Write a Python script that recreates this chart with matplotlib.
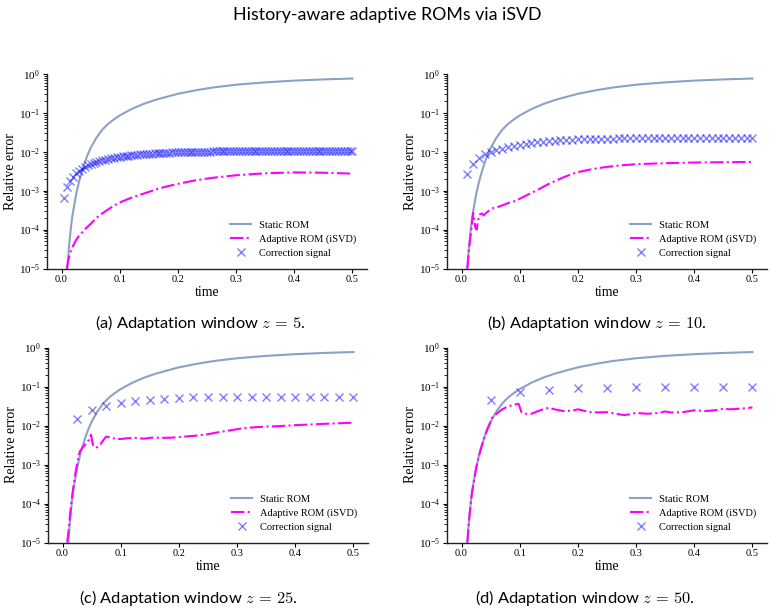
import numpy as np
import matplotlib
matplotlib.use("Agg")
import matplotlib.pyplot as plt
from matplotlib.ticker import LogLocator, NullFormatter, FixedLocator, FormatStrFormatter

plt.rcParams['font.family'] = ['Liberation Serif', 'DejaVu Serif']
plt.rcParams['mathtext.fontset'] = 'stix'

# ---------------- data ----------------
dt = 0.001
windows = [5, 10, 25, 50]
panel_labels = ["(a)", "(b)", "(c)", "(d)"]

static_t = [0.0100, 0.0125, 0.0150, 0.0175, 0.0200, 0.0250, 0.0300, 0.0350, 0.0400,
            0.0450, 0.0500, 0.0600, 0.0700, 0.0800, 0.0900, 0.1000, 0.1200, 0.1400,
            0.1600, 0.1800, 0.2000, 0.2300, 0.2600, 0.3000, 0.3500, 0.4000, 0.4500, 0.5000]
static_err = [1.0e-5, 3.2e-5, 7.9e-5, 1.7e-4, 3.0e-4, 8.0e-4, 1.7e-3, 3.1e-3, 5.4e-3,
              8.5e-3, 1.25e-2, 2.3e-2, 3.7e-2, 5.2e-2, 6.8e-2, 8.6e-2, 0.125, 0.168,
              0.213, 0.258, 0.31, 0.38, 0.45, 0.53, 0.61, 0.675, 0.725, 0.765]

# adaptive ROM (iSVD) error per panel
adapt_a_t = [0.009, 0.010, 0.0115, 0.013, 0.015, 0.0175, 0.020, 0.025, 0.030, 0.035, 0.040,
             0.050, 0.060, 0.070, 0.080, 0.090, 0.100, 0.120, 0.140, 0.160, 0.180, 0.200,
             0.230, 0.260, 0.300, 0.350, 0.400, 0.450, 0.500]
adapt_a = [1.0e-5, 1.2e-5, 1.6e-5, 2.0e-5, 2.6e-5, 3.2e-5, 3.9e-5, 5.4e-5, 6.9e-5, 8.4e-5, 1.02e-4,
           1.4e-4, 2.0e-4, 2.6e-4, 3.3e-4, 4.1e-4, 5.0e-4, 6.6e-4, 8.3e-4, 1.05e-3, 1.28e-3, 1.5e-3,
           1.85e-3, 2.15e-3, 2.5e-3, 2.8e-3, 2.95e-3, 2.9e-3, 2.75e-3]

adapt_b_t = [0.010, 0.012, 0.014, 0.016, 0.018, 0.020, 0.022, 0.024, 0.026, 0.028, 0.030,
             0.032, 0.035, 0.038, 0.040, 0.045, 0.050, 0.055, 0.060, 0.070, 0.080, 0.090,
             0.100, 0.110, 0.120, 0.130, 0.140, 0.150, 0.160, 0.175, 0.190, 0.200, 0.225,
             0.250, 0.275, 0.300, 0.350, 0.400, 0.450, 0.500]
adapt_b = [1.0e-5, 2.5e-5, 4.5e-5, 8.0e-5, 1.5e-4, 2.7e-4, 1.6e-4, 1.1e-4, 1.0e-4, 1.6e-4, 2.2e-4,
           2.5e-4, 2.6e-4, 2.3e-4, 2.5e-4, 2.9e-4, 3.3e-4, 3.6e-4, 3.7e-4, 4.2e-4, 4.8e-4, 5.3e-4,
           6.2e-4, 7.4e-4, 8.8e-4, 1.03e-3, 1.25e-3, 1.5e-3, 1.75e-3, 2.2e-3, 2.7e-3, 3.0e-3, 3.6e-3,
           4.1e-3, 4.5e-3, 4.8e-3, 5.1e-3, 5.3e-3, 5.4e-3, 5.5e-3]

adapt_c_t = [0.008, 0.010, 0.0125, 0.015, 0.0175, 0.020, 0.0225, 0.025, 0.0275, 0.030, 0.035,
             0.040, 0.045, 0.049, 0.052, 0.056, 0.060, 0.065, 0.070, 0.075, 0.080, 0.090,
             0.100, 0.110, 0.125, 0.140, 0.155, 0.170, 0.190, 0.210, 0.230, 0.250, 0.270,
             0.290, 0.310, 0.330, 0.350, 0.370, 0.400, 0.430, 0.460, 0.500]
adapt_c = [1.0e-5, 1.8e-5, 4.5e-5, 1.0e-4, 2.0e-4, 3.7e-4, 6.5e-4, 1.0e-3, 1.7e-3, 2.2e-3, 2.8e-3,
           3.4e-3, 4.2e-3, 5.8e-3, 3.2e-3, 2.7e-3, 2.8e-3, 3.3e-3, 4.2e-3, 5.2e-3, 5.0e-3, 4.6e-3,
           4.5e-3, 4.7e-3, 4.8e-3, 4.6e-3, 4.9e-3, 4.8e-3, 4.9e-3, 5.2e-3, 5.5e-3, 6.0e-3, 6.8e-3,
           7.6e-3, 8.5e-3, 9.0e-3, 9.4e-3, 9.6e-3, 1.02e-2, 1.07e-2, 1.12e-2, 1.18e-2]

adapt_d_t = [0.0100, 0.0125, 0.0150, 0.0175, 0.0200, 0.0250, 0.0300, 0.0350, 0.0400, 0.0450,
             0.050, 0.052, 0.060, 0.070, 0.080, 0.090, 0.098, 0.103, 0.110, 0.120, 0.130,
             0.140, 0.150, 0.160, 0.175, 0.190, 0.200, 0.210, 0.225, 0.250, 0.265, 0.280,
             0.290, 0.300, 0.320, 0.340, 0.350, 0.360, 0.380, 0.400, 0.420, 0.440, 0.450,
             0.460, 0.480, 0.500]
adapt_d = [1.0e-5, 3.2e-5, 7.9e-5, 1.7e-4, 3.0e-4, 8.0e-4, 1.7e-3, 3.1e-3, 5.4e-3, 8.5e-3,
           1.25e-2, 1.55e-2, 2.0e-2, 2.6e-2, 3.1e-2, 3.4e-2, 3.6e-2, 2.2e-2, 2.0e-2, 2.0e-2, 2.3e-2,
           2.6e-2, 2.85e-2, 2.6e-2, 2.35e-2, 2.4e-2, 2.6e-2, 2.4e-2, 2.15e-2, 2.2e-2, 2.0e-2, 1.85e-2,
           1.95e-2, 2.1e-2, 2.0e-2, 2.1e-2, 2.3e-2, 2.15e-2, 2.2e-2, 2.45e-2, 2.35e-2, 2.5e-2, 2.7e-2,
           2.6e-2, 2.7e-2, 2.9e-2]

# correction signal (one value per adaptation window)
corr_a = [6.5e-4, 1.25e-3, 1.8e-3, 2.3e-3, 2.8e-3, 3.25e-3, 3.65e-3, 4.05e-3, 4.45e-3, 4.8e-3,
          5.15e-3, 5.45e-3, 5.75e-3, 6.05e-3, 6.3e-3, 6.55e-3, 6.8e-3, 7.0e-3, 7.2e-3, 7.4e-3,
          7.6e-3, 7.8e-3, 7.95e-3, 8.1e-3, 8.25e-3, 8.4e-3, 8.55e-3, 8.7e-3, 8.8e-3, 8.9e-3,
          9.0e-3, 9.1e-3, 9.2e-3, 9.3e-3, 9.4e-3, 9.45e-3, 9.5e-3, 9.6e-3, 9.65e-3, 9.7e-3,
          9.75e-3, 9.8e-3, 9.85e-3, 9.9e-3, 9.95e-3, 1.0e-2, 1.0e-2, 1.005e-2, 1.01e-2, 1.01e-2,
          1.015e-2, 1.02e-2, 1.02e-2, 1.025e-2, 1.025e-2, 1.03e-2, 1.03e-2, 1.03e-2, 1.035e-2, 1.035e-2,
          1.035e-2, 1.04e-2, 1.04e-2, 1.04e-2, 1.04e-2, 1.045e-2, 1.045e-2, 1.045e-2, 1.045e-2, 1.045e-2,
          1.05e-2, 1.05e-2, 1.05e-2, 1.05e-2, 1.05e-2, 1.05e-2, 1.05e-2, 1.05e-2, 1.05e-2, 1.05e-2,
          1.05e-2, 1.05e-2, 1.05e-2, 1.05e-2, 1.05e-2, 1.05e-2, 1.05e-2, 1.05e-2, 1.05e-2, 1.05e-2,
          1.05e-2, 1.05e-2, 1.05e-2, 1.05e-2, 1.045e-2, 1.045e-2, 1.045e-2, 1.045e-2, 1.04e-2, 1.04e-2]
corr_b = [2.7e-3, 5.0e-3, 7.0e-3, 8.6e-3, 9.9e-3, 1.1e-2, 1.21e-2, 1.32e-2, 1.42e-2, 1.51e-2,
          1.59e-2, 1.67e-2, 1.74e-2, 1.81e-2, 1.87e-2, 1.92e-2, 1.97e-2, 2.01e-2, 2.05e-2, 2.08e-2,
          2.11e-2, 2.13e-2, 2.15e-2, 2.17e-2, 2.18e-2, 2.19e-2, 2.2e-2, 2.21e-2, 2.21e-2, 2.22e-2,
          2.22e-2, 2.22e-2, 2.23e-2, 2.23e-2, 2.23e-2, 2.23e-2, 2.23e-2, 2.23e-2, 2.23e-2, 2.23e-2,
          2.23e-2, 2.23e-2, 2.22e-2, 2.22e-2, 2.22e-2, 2.22e-2, 2.22e-2, 2.22e-2, 2.21e-2, 2.21e-2]
corr_c = [1.45e-2, 2.45e-2, 3.15e-2, 3.85e-2, 4.3e-2, 4.6e-2, 4.9e-2, 5.1e-2, 5.25e-2, 5.3e-2,
          5.4e-2, 5.4e-2, 5.45e-2, 5.45e-2, 5.45e-2, 5.45e-2, 5.45e-2, 5.4e-2, 5.4e-2, 5.35e-2]
corr_d = [4.6e-2, 7.2e-2, 8.3e-2, 8.9e-2, 9.3e-2, 9.6e-2, 9.7e-2, 9.7e-2, 9.7e-2, 9.7e-2]

adapt_t = [adapt_a_t, adapt_b_t, adapt_c_t, adapt_d_t]
adapt_v = [adapt_a, adapt_b, adapt_c, adapt_d]
corr_v = [corr_a, corr_b, corr_c, corr_d]

title = "History-aware adaptive ROMs via iSVD"
x_ticks = [0.0, 0.1, 0.2, 0.3, 0.4, 0.5]

# ---------------- figure ----------------
W, H = 774, 612
fig = plt.figure(figsize=(W / 100, H / 100), dpi=100)

# axes boxes in pixels: (left, top, right, bottom)
boxes = [(47, 74, 367, 268.5), (447, 74, 767, 268.5),
         (48, 347.5, 368, 542.5), (447, 347.5, 767, 542.5)]
caption_pos = [(200, 323), (597, 323), (188, 598), (585, 598)]

static_color = '#8DA0C6'
adapt_color = '#FF00FF'
corr_color = (0.0, 0.0, 1.0, 0.5)

for i, (l, t, r, b) in enumerate(boxes):
    ax = fig.add_axes([l / W, 1 - b / H, (r - l) / W, (b - t) / H])
    ax.plot(static_t, static_err, color=static_color, lw=1.5, label='Static ROM')
    ax.plot(adapt_t[i], adapt_v[i], color=adapt_color, lw=1.5, ls='-.',
            label='Adaptive ROM (iSVD)')
    ct = dt * windows[i] * np.arange(1, len(corr_v[i]) + 1)
    ax.plot(ct, corr_v[i], ls='none', marker='x', ms=5.5, mew=1.0, color=corr_color,
            label='Correction signal')
    ax.set_yscale('log')
    ax.set_ylim(1e-5, 1e0)
    ax.set_xlim(-0.025, 0.525)
    ax.xaxis.set_major_locator(FixedLocator(x_ticks))
    ax.xaxis.set_major_formatter(FormatStrFormatter('%.1f'))
    ax.yaxis.set_major_locator(LogLocator(base=10, numticks=10))
    ax.yaxis.set_minor_locator(LogLocator(base=10, subs=np.arange(2, 10), numticks=20))
    ax.yaxis.set_minor_formatter(NullFormatter())
    for s in ['top', 'right']:
        ax.spines[s].set_visible(False)
    for s in ['left', 'bottom']:
        ax.spines[s].set_linewidth(1.0)
        ax.spines[s].set_color('#222222')
    ax.tick_params(axis='x', which='major', labelsize=7.5, length=3, width=0.8, pad=2)
    ax.tick_params(axis='y', which='major', labelsize=8, length=3, width=0.8, pad=2)
    ax.tick_params(axis='y', which='minor', length=2, width=0.6)
    ax.set_xlabel('time', fontsize=10, labelpad=1)
    ax.set_ylabel('Relative error', fontsize=10, labelpad=1)
    ax.legend(loc='lower right', frameon=False, fontsize=7.5, handlelength=2.0,
              labelspacing=0.45, borderaxespad=0.6)
    cx, cy = caption_pos[i]
    fig.text(cx / W, 1 - cy / H,
             panel_labels[i] + " Adaptation window " + r"$z\,=\," + str(windows[i]) + "$.",
             family='Lato', math_fontfamily='cm', fontsize=11.8, ha='center', va='center')

fig.text(0.5, 1 - 15 / H, title, family='Lato', fontsize=12.8, ha='center', va='center')

fig.savefig('out.png', dpi=100)
